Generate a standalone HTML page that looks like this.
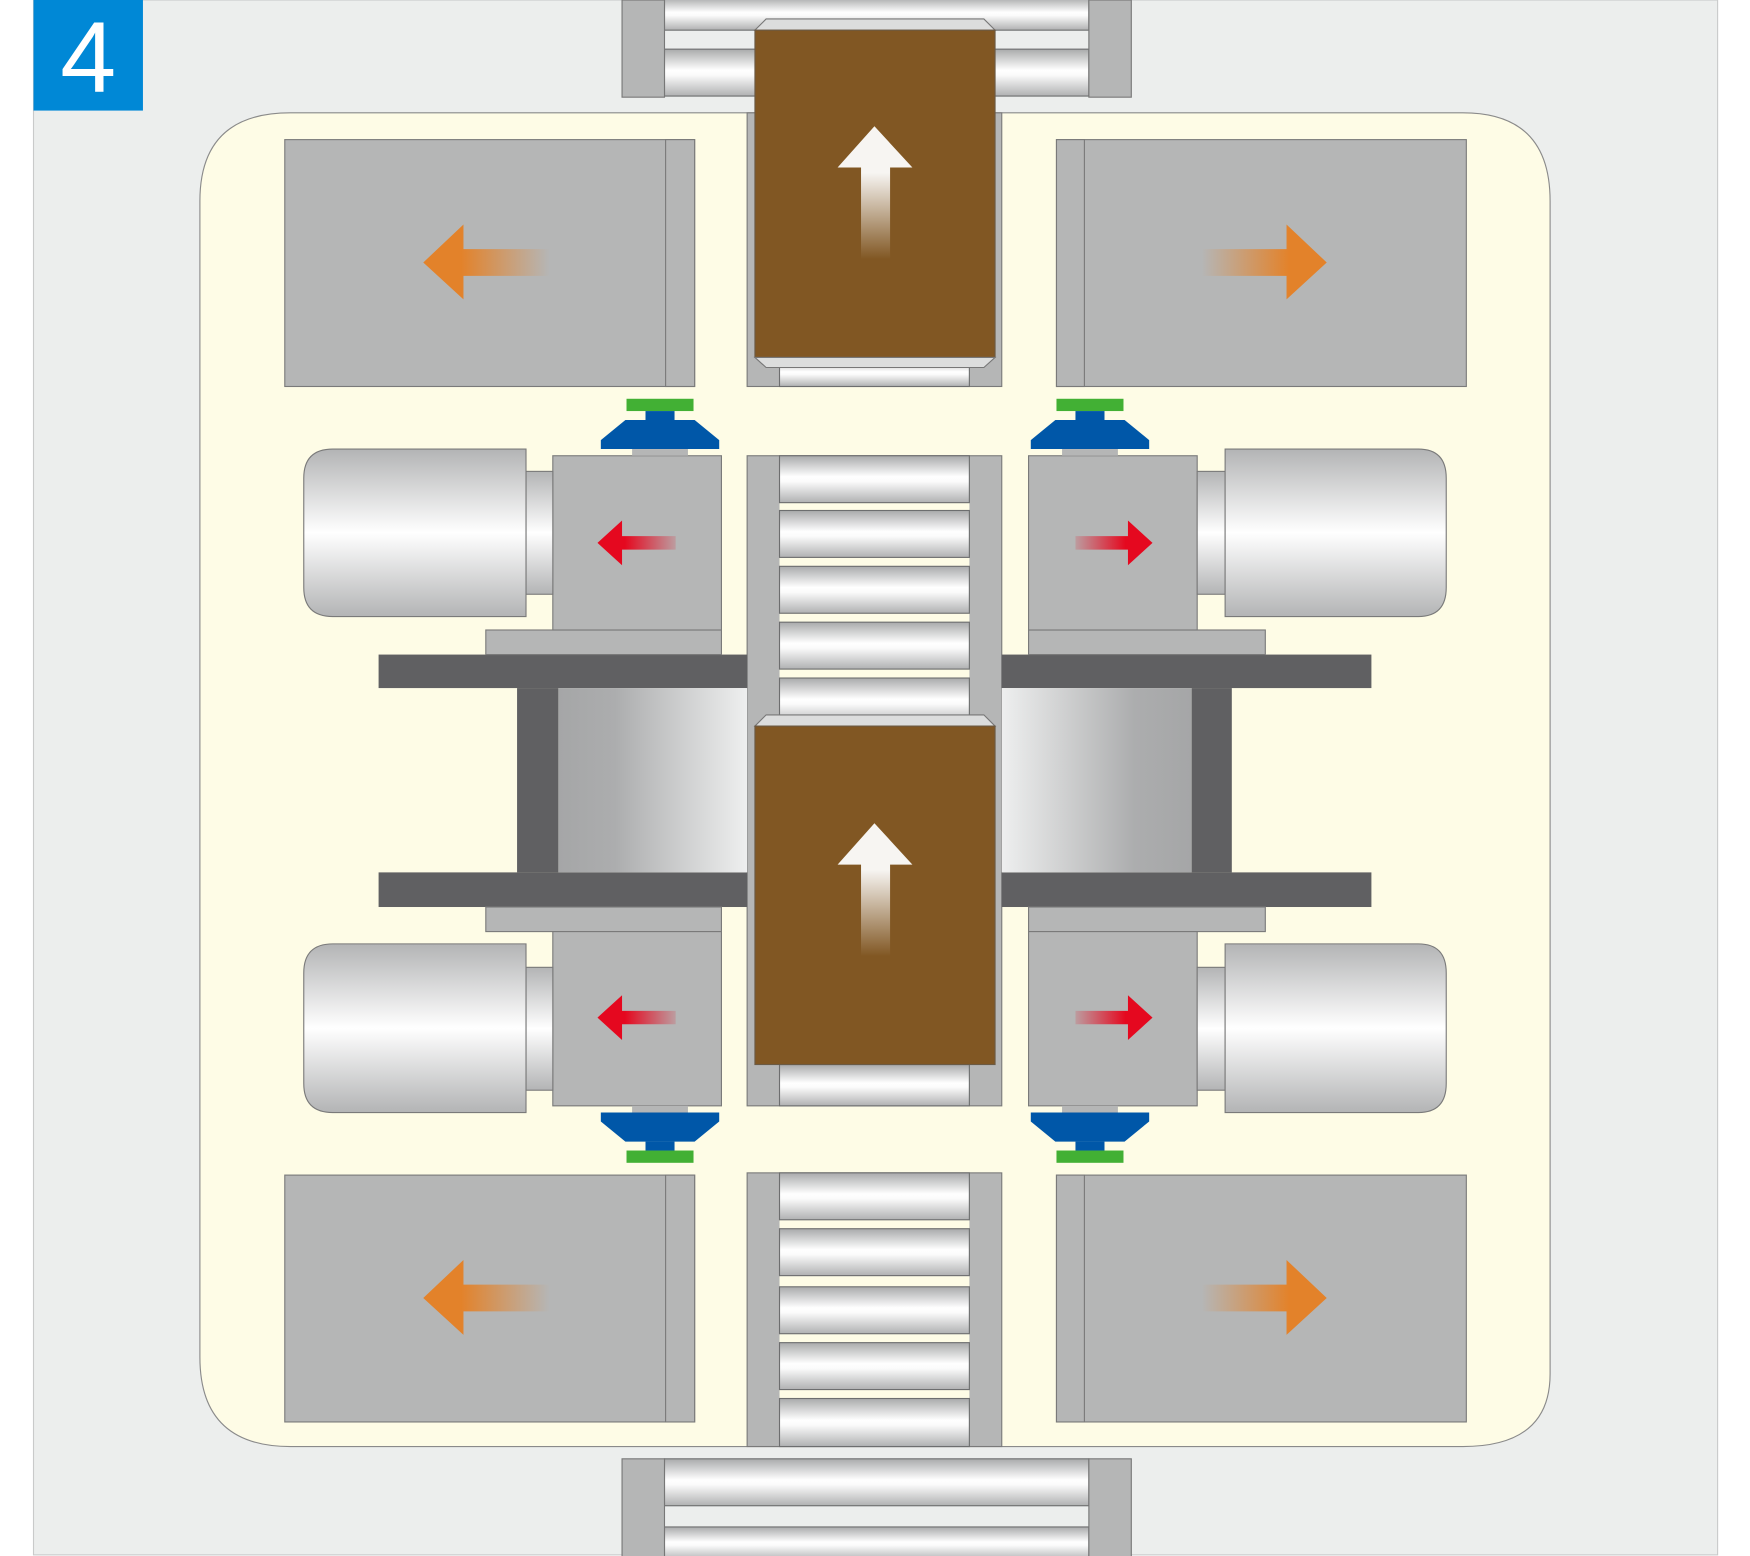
<!DOCTYPE html>
<html><head><meta charset="utf-8"><style>html,body{margin:0;padding:0;background:#fff}svg{display:block}</style></head>
<body>
<svg width="1750" height="1556" viewBox="0 0 1567 1393" preserveAspectRatio="none" xmlns="http://www.w3.org/2000/svg">
<defs>
<linearGradient id="rv" x1="0" y1="0" x2="0" y2="1">
<stop offset="0" stop-color="#a9aaab"/><stop offset="0.45" stop-color="#ffffff"/><stop offset="0.55" stop-color="#fbfbfb"/><stop offset="1" stop-color="#b0b1b2"/></linearGradient>
<linearGradient id="mot" x1="0" y1="0" x2="0" y2="1">
<stop offset="0" stop-color="#b3b4b5"/><stop offset="0.5" stop-color="#ffffff"/><stop offset="1" stop-color="#b3b4b5"/></linearGradient>
<linearGradient id="rl" x1="0" y1="0" x2="1" y2="0">
<stop offset="0" stop-color="#a5a6a7"/><stop offset="0.3" stop-color="#acadae"/><stop offset="1" stop-color="#eeefef"/></linearGradient>
<linearGradient id="rr" x1="1" y1="0" x2="0" y2="0">
<stop offset="0" stop-color="#a5a6a7"/><stop offset="0.3" stop-color="#acadae"/><stop offset="1" stop-color="#eeefef"/></linearGradient>
<linearGradient id="oL" x1="0" y1="0" x2="1" y2="0"><stop offset="0.3" stop-color="#e3822a"/><stop offset="1" stop-color="#e3822a" stop-opacity="0"/></linearGradient>
<linearGradient id="oR" x1="1" y1="0" x2="0" y2="0"><stop offset="0.3" stop-color="#e3822a"/><stop offset="1" stop-color="#e3822a" stop-opacity="0"/></linearGradient>
<linearGradient id="rL" x1="0" y1="0" x2="1" y2="0"><stop offset="0.35" stop-color="#e5081f"/><stop offset="1" stop-color="#e5081f" stop-opacity="0.15"/></linearGradient>
<linearGradient id="rR" x1="1" y1="0" x2="0" y2="0"><stop offset="0.35" stop-color="#e5081f"/><stop offset="1" stop-color="#e5081f" stop-opacity="0.15"/></linearGradient>
<linearGradient id="wU" x1="0" y1="0" x2="0" y2="1"><stop offset="0.35" stop-color="#f7f5f2"/><stop offset="1" stop-color="#f7f5f2" stop-opacity="0"/></linearGradient>
<g id="roller"><rect x="0" y="0" width="170" height="42" fill="url(#rv)" stroke="#6d6e6f" stroke-width="1"/></g>
</defs>
<rect x="30" y="0" width="1508" height="1392" fill="#eceeed" stroke="#c9caca" stroke-width="1"/>
<rect x="30" y="0" width="98" height="99" fill="#0088d6"/>
<text x="79" y="82" font-family="Liberation Sans, sans-serif" font-size="90" fill="#fff" text-anchor="middle">4</text>

<rect x="595" y="0" width="380" height="87" fill="#eceeed"/>
<rect x="595" y="-2" width="380" height="29" fill="url(#rv)" stroke="#6d6e6f"/>
<rect x="595" y="44" width="380" height="42" fill="url(#rv)" stroke="#6d6e6f"/>
<rect x="557" y="0" width="38" height="87" fill="#b5b6b6" stroke="#777"/>
<rect x="975" y="0" width="38" height="87" fill="#b5b6b6" stroke="#777"/>

<path d="M260,101 H1310 Q1388,101 1388,180 V1230 Q1388,1295 1310,1295 H260 Q179,1295 179,1215 V180 Q179,101 260,101 Z" fill="#fefce6" stroke="#8a8a8a" stroke-width="1"/>

<rect x="595" y="1306" width="380" height="86" fill="#eceeed"/>
<rect x="595" y="1306" width="380" height="42" fill="url(#rv)" stroke="#6d6e6f"/>
<rect x="595" y="1367" width="380" height="30" fill="url(#rv)" stroke="#6d6e6f"/>
<rect x="557" y="1306" width="38" height="90" fill="#b5b6b6" stroke="#777"/>
<rect x="975" y="1306" width="38" height="90" fill="#b5b6b6" stroke="#777"/>

<g fill="#b5b6b6" stroke="#7a7a7a">
<rect x="255" y="125" width="367" height="221"/><rect x="596" y="125" width="26" height="221"/>
<rect x="946" y="125" width="367" height="221"/><rect x="946" y="125" width="25" height="221"/>
<rect x="255" y="1052" width="367" height="221"/><rect x="596" y="1052" width="26" height="221"/>
<rect x="946" y="1052" width="367" height="221"/><rect x="946" y="1052" width="25" height="221"/>
</g>

<rect x="669" y="101" width="228" height="245" fill="#b5b6b6" stroke="#7a7a7a"/>
<rect x="698" y="322" width="170" height="24" fill="url(#rv)" stroke="#6d6e6f"/>

<rect x="669" y="408" width="228" height="582" fill="#b5b6b6" stroke="#7a7a7a"/>
<rect x="698" y="408" width="170" height="582" fill="#fefce6"/>
<use href="#roller" x="698" y="408"/><use href="#roller" x="698" y="457"/><use href="#roller" x="698" y="507"/><use href="#roller" x="698" y="557"/><use href="#roller" x="698" y="607"/>
<rect x="698" y="953" width="170" height="37" fill="url(#rv)" stroke="#6d6e6f"/>

<rect x="669" y="1050" width="228" height="245" fill="#b5b6b6" stroke="#7a7a7a"/>
<rect x="698" y="1050" width="170" height="245" fill="#fefce6"/>
<use href="#roller" x="698" y="1050"/><use href="#roller" x="698" y="1100"/><use href="#roller" x="698" y="1152"/><use href="#roller" x="698" y="1202"/>
<rect x="698" y="1252" width="170" height="43" fill="url(#rv)" stroke="#6d6e6f"/>

<g fill="#606062">
<rect x="339" y="586" width="330" height="30"/><rect x="339" y="781" width="330" height="31"/><rect x="463" y="616" width="37" height="165"/>
<rect x="897" y="586" width="331" height="30"/><rect x="897" y="781" width="331" height="31"/><rect x="1067" y="616" width="36" height="165"/>
</g>
<rect x="500" y="616" width="169" height="165" fill="url(#rl)"/>
<rect x="897" y="616" width="170" height="165" fill="url(#rr)"/>

<g stroke="#7a7a7a">
<rect x="435" y="564" width="211" height="22" fill="#b5b6b6"/>
<rect x="921" y="564" width="212" height="22" fill="#b5b6b6"/>
<rect x="435" y="812" width="211" height="22" fill="#b5b6b6"/>
<rect x="921" y="812" width="212" height="22" fill="#b5b6b6"/>
<rect x="495" y="408" width="151" height="156" fill="#b5b6b6"/>
<rect x="921" y="408" width="151" height="156" fill="#b5b6b6"/>
<rect x="495" y="834" width="151" height="156" fill="#b5b6b6"/>
<rect x="921" y="834" width="151" height="156" fill="#b5b6b6"/>
<rect x="471" y="422" width="24" height="110" fill="url(#mot)"/>
<rect x="1072" y="422" width="25" height="110" fill="url(#mot)"/>
<rect x="471" y="866" width="24" height="110" fill="url(#mot)"/>
<rect x="1072" y="866" width="25" height="110" fill="url(#mot)"/>
<path d="M471,402 V552 H298 Q272,552 272,526 V428 Q272,402 298,402 Z" fill="url(#mot)"/>
<path d="M1097,402 V552 H1270 Q1295,552 1295,526 V428 Q1295,402 1270,402 Z" fill="url(#mot)"/>
<path d="M471,845 V996 H298 Q272,996 272,970 V871 Q272,845 298,845 Z" fill="url(#mot)"/>
<path d="M1097,845 V996 H1270 Q1295,996 1295,970 V871 Q1295,845 1270,845 Z" fill="url(#mot)"/>
</g>

<g>
<rect x="566" y="402" width="50" height="6" fill="#b5b6b6"/>
<rect x="561" y="357" width="60" height="11" fill="#42b034"/>
<rect x="578" y="368" width="26" height="8" fill="#0057a8"/>
<path d="M560,376 H622 L644,394 V402 H538 V394 Z" fill="#0057a8"/>
<rect x="951" y="402" width="50" height="6" fill="#b5b6b6"/>
<rect x="946" y="357" width="60" height="11" fill="#42b034"/>
<rect x="963" y="368" width="26" height="8" fill="#0057a8"/>
<path d="M945,376 H1007 L1029,394 V402 H923 V394 Z" fill="#0057a8"/>
<rect x="566" y="990" width="50" height="6" fill="#b5b6b6"/>
<rect x="561" y="1030" width="60" height="11" fill="#42b034"/>
<rect x="578" y="1022" width="26" height="8" fill="#0057a8"/>
<path d="M538,996 H644 V1004 L622,1022 H560 L538,1004 Z" fill="#0057a8"/>
<rect x="951" y="990" width="50" height="6" fill="#b5b6b6"/>
<rect x="946" y="1030" width="60" height="11" fill="#42b034"/>
<rect x="963" y="1022" width="26" height="8" fill="#0057a8"/>
<path d="M923,996 H1029 V1004 L1007,1022 H945 L923,1004 Z" fill="#0057a8"/>
</g>

<path d="M676,27 L686,17 H881 L891,27 Z" fill="#dcdddd" stroke="#777"/>
<rect x="676" y="27" width="215" height="293" fill="#815723" stroke="#6b5a44"/>
<path d="M676,320 L686,329 H881 L891,320 Z" fill="#dcdddd" stroke="#777"/>
<path d="M676,650 L686,640 H881 L891,650 Z" fill="#dcdddd" stroke="#777"/>
<rect x="676" y="650" width="215" height="303" fill="#815723" stroke="#6b5a44"/>

<path d="M783,113 L817,150 H797 V232 H771 V150 H750 Z" fill="url(#wU)"/>
<path d="M783,737 L817,774 H797 V856 H771 V774 H750 Z" fill="url(#wU)"/>

<path d="M379,235 L415,201 V223 H492 V247 H415 V268 Z" fill="url(#oL)"/>
<path d="M1188,235 L1152,201 V223 H1076 V247 H1152 V268 Z" fill="url(#oR)"/>
<path d="M379,1162 L415,1128 V1150 H492 V1174 H415 V1195 Z" fill="url(#oL)"/>
<path d="M1188,1162 L1152,1128 V1150 H1076 V1174 H1152 V1195 Z" fill="url(#oR)"/>

<path d="M535,486 L557,466 V480 H605 V492 H557 V506 Z" fill="url(#rL)"/>
<path d="M1032,486 L1010,466 V480 H963 V492 H1010 V506 Z" fill="url(#rR)"/>
<path d="M535,911 L557,891 V905 H605 V917 H557 V931 Z" fill="url(#rL)"/>
<path d="M1032,911 L1010,891 V905 H963 V917 H1010 V931 Z" fill="url(#rR)"/>
</svg>
</body></html>
